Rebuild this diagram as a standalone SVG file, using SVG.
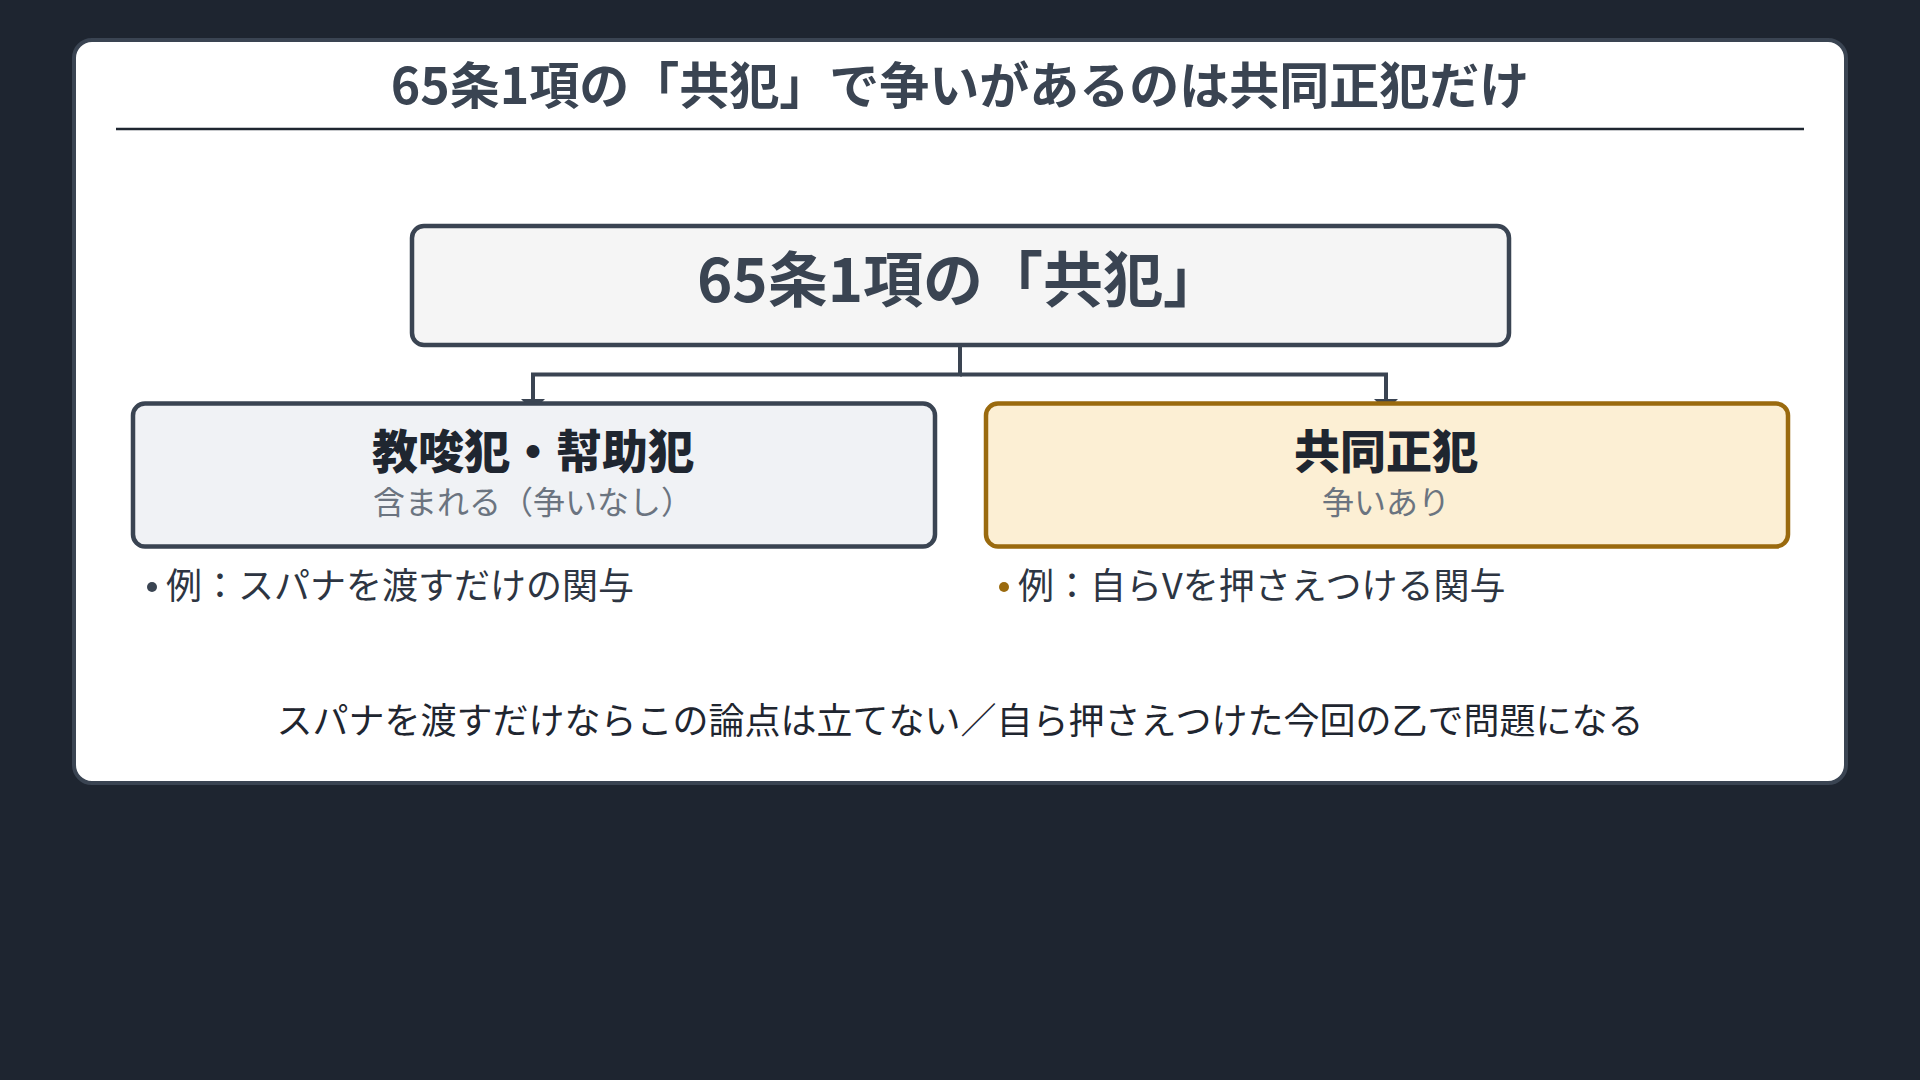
<svg xmlns="http://www.w3.org/2000/svg" width="1920" height="1080" viewBox="0 0 1920 1080">
  <defs>
    <style>
      .t { font-family: "Noto Sans CJK JP", "Noto Sans", sans-serif; }
      .title { font-size: 50px; font-weight: 700; fill: #3a4452; }
      .root { font-size: 60px; font-weight: 700; fill: #3a4452; }
      .head { font-size: 46px; font-weight: 900; fill: #1f2630; }
      .sub { font-size: 32px; font-weight: 400; fill: #6b7480; }
      .bul { font-size: 36px; font-weight: 400; fill: #2d3542; }
      .foot { font-size: 36px; font-weight: 400; fill: #1f2630; }
      .conn { fill: none; stroke: #3a4452; stroke-width: 4; }
      .node { stroke-width: 4.5; }
    </style>
    <marker id="arr" viewBox="0 0 12 24" refX="12" refY="12" markerWidth="12" markerHeight="24" markerUnits="userSpaceOnUse" orient="auto">
      <path d="M0 0 L12 12 L0 24 Z" fill="#3a4452"/>
    </marker>
  </defs>
  <rect x="0" y="0" width="1920" height="1080" fill="#1e2530"/>
  <g id="panel">
    <rect x="74" y="40" width="1772" height="743" rx="18" fill="#ffffff" stroke="#3a4452" stroke-width="4"/>
    <text class="t title" x="960" y="104" text-anchor="middle">65条1項の「共犯」で争いがあるのは共同正犯だけ</text>
    <line x1="116" y1="129" x2="1804" y2="129" stroke="#1f2630" stroke-width="2.5"/>
  </g>
  <g id="connectors">
    <path class="conn" d="M960 345 V374.5 H533 V411" marker-end="url(#arr)"/>
    <path class="conn" d="M960 374.5 H1386 V411" marker-end="url(#arr)"/>
  </g>
  <g id="node-root">
    <rect class="node" x="412" y="226" width="1097" height="119" rx="12" fill="#f5f5f5" stroke="#3a4452"/>
    <text class="t root" x="960" y="302" text-anchor="middle">65条1項の「共犯」</text>
  </g>
  <g id="node-left">
    <rect class="node" x="133" y="403.5" width="802" height="143" rx="12" fill="#f0f2f5" stroke="#3a4452"/>
    <text class="t head" x="533" y="468" text-anchor="middle">教唆犯・幇助犯</text>
    <text class="t sub" x="533" y="514" text-anchor="middle">含まれる（争いなし）</text>
  </g>
  <g id="node-right">
    <rect class="node" x="986" y="403.5" width="802" height="143" rx="12" fill="#fcefd4" stroke="#9a6a0e"/>
    <text class="t head" x="1386" y="468" text-anchor="middle">共同正犯</text>
    <text class="t sub" x="1386" y="514" text-anchor="middle">争いあり</text>
  </g>
  <g id="bullet-left">
    <circle cx="152" cy="587" r="5" fill="#3a4452"/>
    <text class="t bul" x="166" y="599">例：スパナを渡すだけの関与</text>
  </g>
  <g id="bullet-right">
    <circle cx="1004" cy="587" r="5" fill="#9a6a0e"/>
    <text class="t bul" x="1018" y="599">例：自らVを押さえつける関与</text>
  </g>
  <g id="footer">
    <text class="t foot" x="960" y="734" text-anchor="middle">スパナを渡すだけならこの論点は立てない／自ら押さえつけた今回の乙で問題になる</text>
  </g>
</svg>
